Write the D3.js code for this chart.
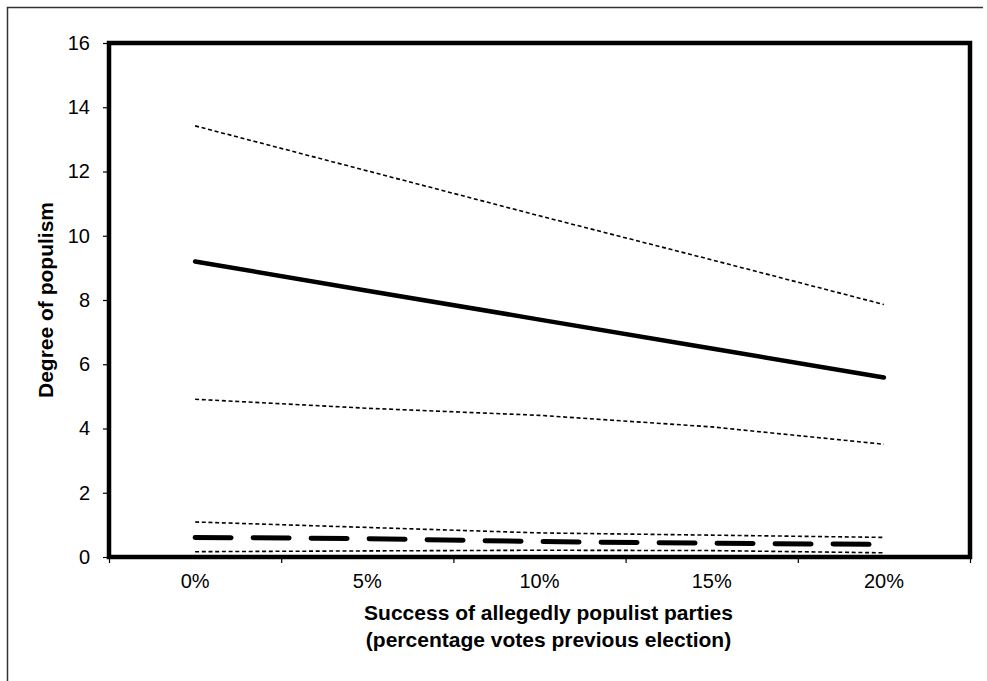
<!DOCTYPE html>
<html>
<head>
<meta charset="utf-8">
<script src="https://d3js.org/d3.v7.min.js"></script>
<style>
  body { margin: 0; background: #fff; }
  text { font-family: Arial, "Liberation Sans", sans-serif; fill: #000; }
</style>
</head>
<body>
<div id="chart-area"></div>
<script>
// values
var categories = ["0%", "5%", "10%", "15%", "20%"];
var yTicks = [0, 2, 4, 6, 8, 10, 12, 14, 16];

var estimate = [9.2, 8.29, 7.39, 6.49, 5.59];
var upperCI = [13.42, 12.02, 10.62, 9.25, 7.86];
var lowerCI = [4.91, 4.63, 4.41, 4.05, 3.51];

var estimate2 = [0.61, 0.57, 0.48, 0.43, 0.39];
var upperCI2 = [1.09, 0.92, 0.75, 0.68, 0.61];
var lowerCI2 = [0.165, 0.19, 0.21, 0.2, 0.13];

var W = 987, H = 681;
var margin = { top: 43, right: 17, bottom: 124, left: 109 };
var width = W - margin.left - margin.right;
var height = H - margin.top - margin.bottom;

var svg = d3.select("#chart-area").append("svg")
    .attr("width", W)
    .attr("height", H);

// outer thin frame (top and left only visible)
svg.append("path")
    .attr("d", "M7.5,681 L7.5,7.5 L983,7.5")
    .attr("fill", "none")
    .attr("stroke", "#333")
    .attr("stroke-width", 1.5);

var g = svg.append("g")
    .attr("transform", "translate(" + margin.left + "," + margin.top + ")");

var x = d3.scaleBand()
    .domain(categories)
    .range([0, width])
    .padding(0);

var xEdges = d3.scaleLinear()
    .domain([0, categories.length])
    .range([0, width]);

var y = d3.scaleLinear()
    .domain([0, 16])
    .range([height, 0]);

// y axis
var yAxis = g.append("g")
    .call(d3.axisLeft(y).tickValues(yTicks).tickSize(6).tickPadding(13));
yAxis.select(".domain").remove();
yAxis.selectAll("line").attr("stroke-width", 1.2);
yAxis.selectAll("text").attr("font-size", "20px").attr("font-family", "Arial, 'Liberation Sans', sans-serif");

// x axis: tick marks at category edges, labels at centres
var xTickAxis = g.append("g")
    .attr("transform", "translate(0," + height + ")")
    .call(d3.axisBottom(xEdges).ticks(categories.length).tickFormat("").tickSize(6));
xTickAxis.select(".domain").remove();
xTickAxis.selectAll("line").attr("stroke-width", 1.2);

var xAxis = g.append("g")
    .attr("transform", "translate(0," + height + ")")
    .call(d3.axisBottom(x).tickSize(0).tickPadding(17));
xAxis.select(".domain").remove();
xAxis.selectAll("text").attr("font-size", "20px").attr("font-family", "Arial, 'Liberation Sans', sans-serif");

// plot frame
g.append("rect")
    .attr("x", 0)
    .attr("y", 0)
    .attr("width", width)
    .attr("height", height)
    .attr("fill", "none")
    .attr("stroke", "#000")
    .attr("stroke-width", 4.5);

var line = d3.line()
    .x(function(d, i) { return x(categories[i]) + x.bandwidth() / 2; })
    .y(function(d) { return y(d); });

var series = [
    { values: upperCI, width: 1.6, dash: "4,2.7", cap: "butt" },
    { values: lowerCI, width: 1.6, dash: "4,2.7", cap: "butt" },
    { values: estimate, width: 4.5, dash: null, cap: "round" },
    { values: upperCI2, width: 1.6, dash: "4,2.7", cap: "butt" },
    { values: lowerCI2, width: 1.6, dash: "4,2.7", cap: "butt" },
    { values: estimate2, width: 5, dash: "36,22", cap: "round" }
];

g.selectAll(".series").data(series).enter().append("path")
    .attr("class", "series")
    .attr("d", function(d) { return line(d.values); })
    .attr("fill", "none")
    .attr("stroke", "#000")
    .attr("stroke-width", function(d) { return d.width; })
    .attr("stroke-dasharray", function(d) { return d.dash; })
    .attr("stroke-linecap", function(d) { return d.cap; })
    .attr("stroke-linejoin", "round");

// axis titles
g.append("text")
    .attr("x", width / 2 + 9)
    .attr("y", height + 63)
    .attr("text-anchor", "middle")
    .attr("font-size", "21px")
    .attr("font-weight", "bold")
    .text("Success of allegedly populist parties");

g.append("text")
    .attr("x", width / 2 + 9)
    .attr("y", height + 90)
    .attr("text-anchor", "middle")
    .attr("font-size", "21px")
    .attr("font-weight", "bold")
    .text("(percentage votes previous election)");

g.append("text")
    .attr("transform", "rotate(-90)")
    .attr("x", -height / 2)
    .attr("y", -56)
    .attr("text-anchor", "middle")
    .attr("font-size", "21px")
    .attr("font-weight", "bold")
    .text("Degree of populism");
</script>
</body>
</html>
